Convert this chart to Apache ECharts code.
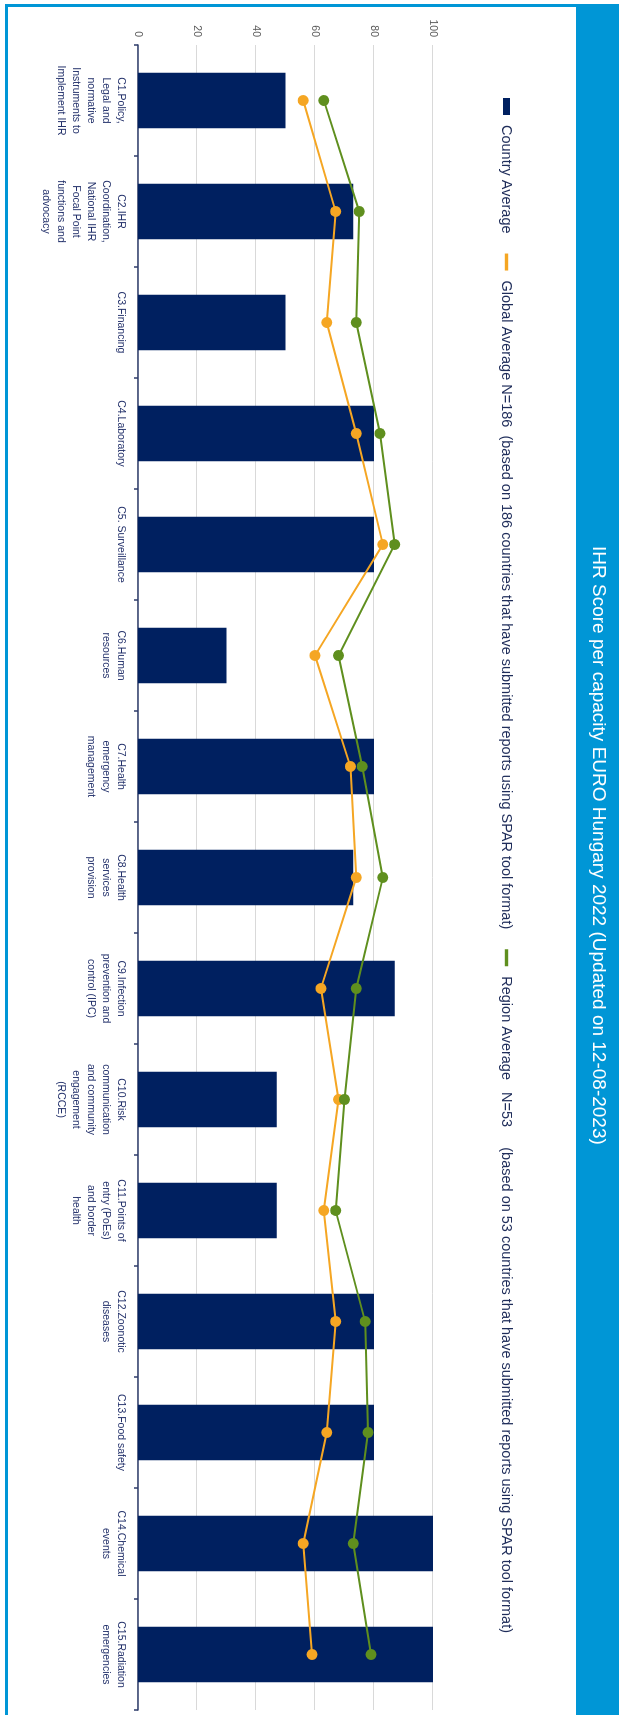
<!DOCTYPE html>
<html>
<head>
<meta charset="utf-8">
<script src="https://cdn.jsdelivr.net/npm/echarts@6/dist/echarts.min.js"></script>
<style>
  html, body { margin: 0; padding: 0; background: #ffffff; }
  body { width: 619px; height: 1715px; overflow: hidden; position: relative; }
  #chart {
    position: absolute; left: 0; top: 0;
    width: 1715px; height: 619px;
    transform-origin: 0 0;
    transform: translateX(619px) rotate(90deg);
  }
</style>
</head>
<body>
<div id="chart"></div>
<script>
const titleText = 'IHR Score per capacity EURO Hungary 2022 (Updated on 12-08-2023)';

const categories = [
  'C1.Policy,\nLegal and\nnormative\nInstruments to\nImplement IHR',
  'C2.IHR\nCoordination,\nNational IHR\nFocal Point\nfunctions and\nadvocacy',
  'C3.Financing',
  'C4.Laboratory',
  'C5. Surveillance',
  'C6.Human\nresources',
  'C7.Health\nemergency\nmanagement',
  'C8.Health\nservices\nprovision',
  'C9.Infection\nprevention and\ncontrol (IPC)',
  'C10.Risk\ncommunication\nand community\nengagement\n(RCCE)',
  'C11.Points of\nentry (PoEs)\nand border\nhealth',
  'C12.Zoonotic\ndiseases',
  'C13.Food safety',
  'C14.Chemical\nevents',
  'C15.Radiation\nemergencies'
];

const countryAverage = [50, 73, 50, 80, 80, 30, 80, 73, 87, 47, 47, 80, 80, 100, 100];
const globalAverage  = [56, 67, 64, 74, 83, 60, 72, 74, 62, 68, 63, 67, 64, 56, 59];
const regionAverage  = [63, 75, 74, 82, 87, 68, 76, 83, 74, 70, 67, 77, 78, 73, 79];

const seriesNames = [
  'Country Average',
  'Global Average N=186  (based on 186 countries that have submitted reports using SPAR tool format)',
  'Region Average   N=53     (based on 53 countries that have submitted reports using SPAR tool format)'
];

const valueTicks = { min: 0, max: 100, interval: 20 };

const NAVY = '#002060';
const ORANGE = '#F5A623';
const GREEN = '#5F8F1E';
const BLUE = '#0096D6';
const FONT = 'Liberation Sans, Arial, sans-serif';

const chart = echarts.init(document.getElementById('chart'), null, { renderer: 'canvas', width: 1715, height: 619 });

const thinLine = 'path://M0,0M17,0M17,7M0,7M0,1.8L17,1.8L17,5.2L0,5.2Z';

chart.setOption({
  backgroundColor: '#ffffff',
  animation: false,
  graphic: [
    { type: 'rect', shape: { x: 4, y: 0, width: 1720, height: 43 }, style: { fill: BLUE }, z: -10 },
    { type: 'rect', shape: { x: 5.5, y: 0, width: 1720, height: 612.5 }, style: { fill: 'none', stroke: BLUE, lineWidth: 3 }, z: -9 }
  ],
  title: {
    text: titleText,
    left: 541,
    top: 6,
    textStyle: { color: '#ffffff', fontSize: 19, fontWeight: 'normal', fontFamily: FONT }
  },
  legend: {
    left: 93,
    top: 100,
    itemWidth: 17,
    itemHeight: 7,
    itemGap: 20,
    textStyle: { color: '#1F2D5A', fontSize: 14.5, fontFamily: FONT, padding: [0, 0, 0, 5] },
    data: [
      { name: seriesNames[0], icon: 'rect' },
      { name: seriesNames[1], icon: thinLine },
      { name: seriesNames[2], icon: thinLine }
    ]
  },
  grid: { left: 45, right: 5, top: 186, bottom: 138, containLabel: false },
  xAxis: {
    type: 'category',
    data: categories,
    boundaryGap: true,
    axisLine: { show: true, lineStyle: { color: '#2E3D6B', width: 1.5 } },
    axisTick: { show: true, length: 4, alignWithLabel: false, lineStyle: { color: '#2E3D6B', width: 1.5 } },
    axisLabel: {
      interval: 0,
      margin: 10,
      color: '#22306A',
      fontSize: 10.5,
      lineHeight: 15,
      fontFamily: FONT,
      align: 'center',
      verticalAlign: 'top'
    }
  },
  yAxis: {
    type: 'value',
    min: valueTicks.min,
    max: valueTicks.max,
    interval: valueTicks.interval,
    axisLine: { show: false },
    axisTick: { show: false },
    splitLine: { show: true, lineStyle: { color: '#D9D9D9', width: 1 } },
    axisLabel: { color: '#595959', fontSize: 10.5, margin: 8, fontFamily: FONT }
  },
  series: [
    {
      name: seriesNames[0],
      type: 'bar',
      data: countryAverage,
      barWidth: '50%',
      itemStyle: { color: NAVY },
      z: 2
    },
    {
      name: seriesNames[1],
      type: 'line',
      data: globalAverage,
      symbol: 'circle',
      symbolSize: 11,
      lineStyle: { color: ORANGE, width: 2 },
      itemStyle: { color: ORANGE },
      z: 3
    },
    {
      name: seriesNames[2],
      type: 'line',
      data: regionAverage,
      symbol: 'circle',
      symbolSize: 11,
      lineStyle: { color: GREEN, width: 2 },
      itemStyle: { color: GREEN },
      z: 4
    }
  ]
});
</script>
</body>
</html>
